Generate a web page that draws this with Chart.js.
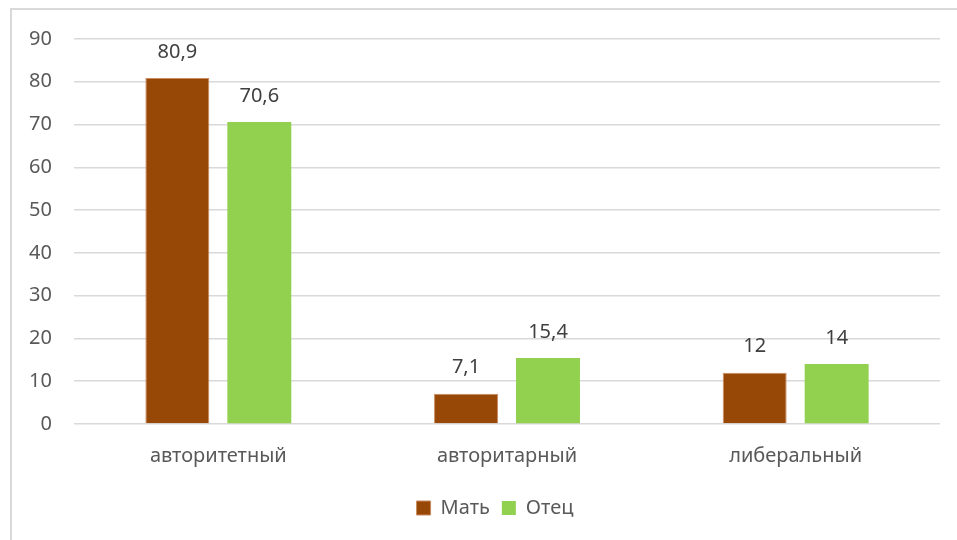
<!DOCTYPE html>
<html>
<head>
<meta charset="utf-8">
<script src="https://cdn.jsdelivr.net/npm/chart.js@4"></script>
<style>
  body { margin: 0; background: #fff; overflow: hidden; }
  #frame { position: absolute; left: 10px; top: 8px; width: 1000px; height: 600px; border: 2px solid #d9d9d9; box-sizing: border-box; }
  #wrap { position: absolute; left: 0; top: 0; width: 957px; height: 540px; }
</style>
</head>
<body>
<div id="frame"></div>
<div id="wrap"><canvas id="chart"></canvas></div>
<script>
// Data
const categories = ['авторитетный', 'авторитарный', 'либеральный'];
const motherValues = [80.9, 7.1, 12];
const fatherValues = [70.6, 15.4, 14];
const seriesNames = ['Мать', 'Отец'];

const FONT = '"Noto Sans", sans-serif';
const TEXT = '#595959';

// draws values above bars, decimal comma
const valueLabels = {
    id: 'valueLabels',
    afterDatasetsDraw(chart) {
        const ctx = chart.ctx;
        ctx.save();
        ctx.font = '20px ' + FONT;
        ctx.fillStyle = '#404040';
        ctx.textAlign = 'center';
        ctx.textBaseline = 'middle';
        chart.data.datasets.forEach((ds, i) => {
            chart.getDatasetMeta(i).data.forEach((bar, j) => {
                const text = String(ds.data[j]).replace('.', ',');
                ctx.fillText(text, bar.x, bar.y - 26);
            });
        });
        ctx.restore();
    }
};

// center the legend a bit to the right, like the original
const shiftLegend = {
    id: 'shiftLegend',
    afterLayout(chart) {
        if (chart.legend) {
            chart.legend.left = 50;
            chart.legend.right = 940;
        }
    }
};

new Chart(document.getElementById('chart').getContext('2d'), {
    type: 'bar',
    data: {
        labels: categories,
        datasets: [
            { label: seriesNames[0], data: motherValues, backgroundColor: '#974706', borderColor: '#c98a5e', borderWidth: 1 },
            { label: seriesNames[1], data: fatherValues, backgroundColor: '#92d050', borderColor: '#92d050', borderWidth: 0 }
        ]
    },
    options: {
        responsive: true,
        maintainAspectRatio: false,
        animation: false,
        categoryPercentage: 0.568,
        barPercentage: 0.78,
        layout: { padding: { left: 0, top: 39, right: 17, bottom: 12 } },
        scales: {
            x: {
                grid: { display: false },
                border: { display: false },
                ticks: { color: TEXT, font: { family: FONT, size: 20 }, padding: 12 },
                afterFit(scale) { scale.height = 62; }
            },
            y: {
                min: 0,
                max: 90,
                ticks: { stepSize: 10, color: TEXT, font: { family: FONT, size: 20 }, padding: 22 },
                grid: { color: '#d9d9d9', lineWidth: 1.5, drawTicks: false },
                border: { display: false },
                afterFit(scale) { scale.width = 74; }
            }
        },
        plugins: {
            legend: {
                position: 'bottom',
                labels: { color: TEXT, font: { family: FONT, size: 20 }, boxWidth: 14, boxHeight: 14, padding: 12 }
            },
            tooltip: { enabled: false }
        }
    },
    plugins: [valueLabels, shiftLegend]
});
</script>
</body>
</html>
